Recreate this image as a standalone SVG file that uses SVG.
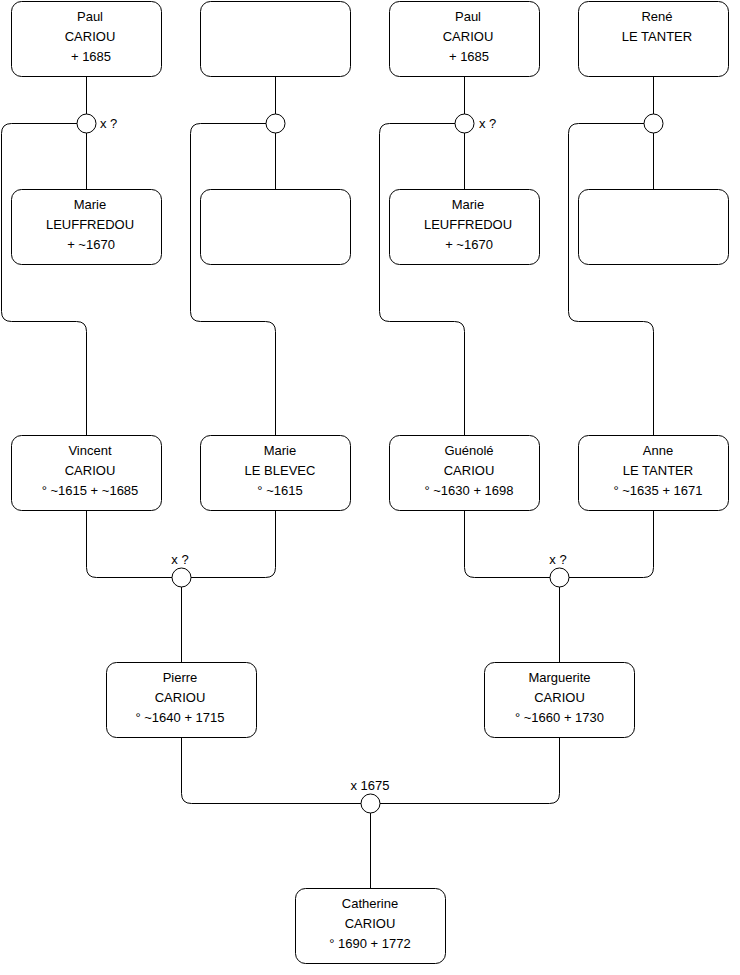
<svg xmlns="http://www.w3.org/2000/svg" width="740" height="975" viewBox="0 0 740 975">
<style>
.box{fill:#fff;stroke:#000;stroke-width:1}
.c{fill:#fff;stroke:#000;stroke-width:1}
.ln{fill:none;stroke:#000;stroke-width:1}
text{font-family:"Liberation Sans",Arial,sans-serif;font-size:13px;fill:#000}
.m{text-anchor:middle}
</style>
<rect width="740" height="975" fill="#fff"/>
<g id="connectors">
<path class="ln" d="M86.5 76.5V114M86.5 133V189.5"/>
<path class="ln" d="M77 123.5H11.5Q1.5 123.5 1.5 133.5V311.5Q1.5 321.5 11.5 321.5H76.5Q86.5 321.5 86.5 331.5V435.5"/>
<path class="ln" d="M275.5 76.5V114M275.5 133V189.5"/>
<path class="ln" d="M266 123.5H200.5Q190.5 123.5 190.5 133.5V311.5Q190.5 321.5 200.5 321.5H265.5Q275.5 321.5 275.5 331.5V435.5"/>
<path class="ln" d="M464.5 76.5V114M464.5 133V189.5"/>
<path class="ln" d="M455 123.5H389.5Q379.5 123.5 379.5 133.5V311.5Q379.5 321.5 389.5 321.5H454.5Q464.5 321.5 464.5 331.5V435.5"/>
<path class="ln" d="M653.5 76.5V114M653.5 133V189.5"/>
<path class="ln" d="M644 123.5H578.5Q568.5 123.5 568.5 133.5V311.5Q568.5 321.5 578.5 321.5H643.5Q653.5 321.5 653.5 331.5V435.5"/>
<path class="ln" d="M86.5 510.5V567.5Q86.5 577.5 96.5 577.5H172M275.5 510.5V567.5Q275.5 577.5 265.5 577.5H191M181.5 587V662.5"/>
<path class="ln" d="M464.5 510.5V567.5Q464.5 577.5 474.5 577.5H550M653.5 510.5V567.5Q653.5 577.5 643.5 577.5H569M559.5 587V662.5"/>
<path class="ln" d="M181.5 737.5V793.5Q181.5 803.5 191.5 803.5H361M559.5 737.5V793.5Q559.5 803.5 549.5 803.5H380M370.5 813V888.5"/>
</g>
<g id="u1"><circle class="c" cx="86.5" cy="123.5" r="9.5"/><text x="100" y="128">x ?</text></g>
<g id="u2"><circle class="c" cx="275.5" cy="123.5" r="9.5"/></g>
<g id="u3"><circle class="c" cx="464.5" cy="123.5" r="9.5"/><text x="479" y="128">x ?</text></g>
<g id="u4"><circle class="c" cx="653.5" cy="123.5" r="9.5"/></g>
<g id="u5"><circle class="c" cx="181.5" cy="577.5" r="9.5"/><text class="m" x="180" y="563.5">x ?</text></g>
<g id="u6"><circle class="c" cx="559.5" cy="577.5" r="9.5"/><text class="m" x="558" y="563.5">x ?</text></g>
<g id="u7"><circle class="c" cx="370.5" cy="803.5" r="9.5"/><text class="m" x="370" y="789.5">x 1675</text></g>

<g id="paul1"><rect class="box" x="11.5" y="1.5" width="150" height="75" rx="10"/>
<text class="m" x="90" y="20.5">Paul</text><text class="m" x="90" y="40.5">CARIOU</text><text class="m" x="91" y="60.5">+ 1685</text></g>
<g id="empty1"><rect class="box" x="200.5" y="1.5" width="150" height="75" rx="10"/></g>
<g id="paul2"><rect class="box" x="389.5" y="1.5" width="150" height="75" rx="10"/>
<text class="m" x="468" y="20.5">Paul</text><text class="m" x="468" y="40.5">CARIOU</text><text class="m" x="469" y="60.5">+ 1685</text></g>
<g id="rene"><rect class="box" x="578.5" y="1.5" width="150" height="75" rx="10"/>
<text class="m" x="657" y="20.5">René</text><text class="m" x="657" y="40.5">LE TANTER</text></g>

<g id="marie1"><rect class="box" x="11.5" y="189.5" width="150" height="75" rx="10"/>
<text class="m" x="90" y="209">Marie</text><text class="m" x="90" y="229">LEUFFREDOU</text><text class="m" x="91" y="249">+ ~1670</text></g>
<g id="empty2"><rect class="box" x="200.5" y="189.5" width="150" height="75" rx="10"/></g>
<g id="marie2"><rect class="box" x="389.5" y="189.5" width="150" height="75" rx="10"/>
<text class="m" x="468" y="209">Marie</text><text class="m" x="468" y="229">LEUFFREDOU</text><text class="m" x="469" y="249">+ ~1670</text></g>
<g id="empty3"><rect class="box" x="578.5" y="189.5" width="150" height="75" rx="10"/></g>

<g id="vincent"><rect class="box" x="11.5" y="435.5" width="150" height="75" rx="10"/>
<text class="m" x="90" y="455">Vincent</text><text class="m" x="90" y="475">CARIOU</text><text class="m" x="90" y="495">° ~1615 + ~1685</text></g>
<g id="marieleb"><rect class="box" x="200.5" y="435.5" width="150" height="75" rx="10"/>
<text class="m" x="280" y="455">Marie</text><text class="m" x="280" y="475">LE BLEVEC</text><text class="m" x="280" y="495">° ~1615</text></g>
<g id="guenole"><rect class="box" x="389.5" y="435.5" width="150" height="75" rx="10"/>
<text class="m" x="469" y="455">Guénolé</text><text class="m" x="469" y="475">CARIOU</text><text class="m" x="469" y="495">° ~1630 + 1698</text></g>
<g id="anne"><rect class="box" x="578.5" y="435.5" width="150" height="75" rx="10"/>
<text class="m" x="658" y="455">Anne</text><text class="m" x="658" y="475">LE TANTER</text><text class="m" x="658" y="495">° ~1635 + 1671</text></g>

<g id="pierre"><rect class="box" x="106.5" y="662.5" width="150" height="75" rx="10"/>
<text class="m" x="180" y="682">Pierre</text><text class="m" x="180" y="702">CARIOU</text><text class="m" x="180" y="722">° ~1640 + 1715</text></g>
<g id="marguerite"><rect class="box" x="484.5" y="662.5" width="150" height="75" rx="10"/>
<text class="m" x="559.5" y="682">Marguerite</text><text class="m" x="559.5" y="702">CARIOU</text><text class="m" x="559.5" y="722">° ~1660 + 1730</text></g>

<g id="catherine"><rect class="box" x="295.5" y="888.5" width="150" height="75" rx="10"/>
<text class="m" x="370" y="908">Catherine</text><text class="m" x="370" y="928">CARIOU</text><text class="m" x="370" y="948">° 1690 + 1772</text></g>
</svg>
